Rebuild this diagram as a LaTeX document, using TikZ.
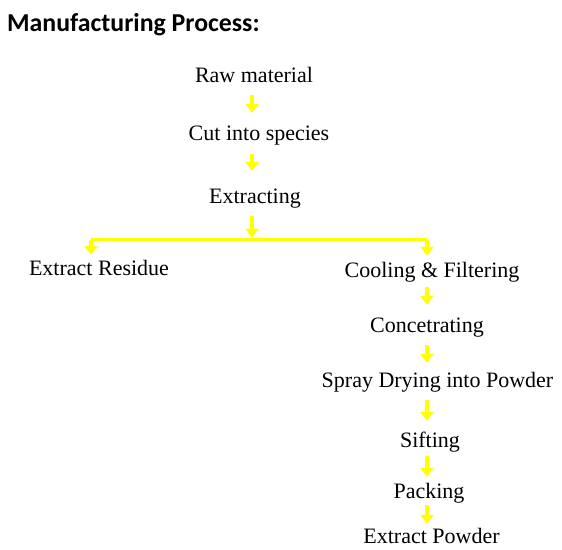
\documentclass[tikz,border=0pt]{standalone}
\usepackage{fontspec}
\setmainfont{Liberation Serif}
\newfontfamily\titlefont{Carlito}
\usetikzlibrary{arrows.meta}
\definecolor{ylw}{RGB}{255,255,0}
\tikzset{
  txt/.style={anchor=base, inner sep=0pt, text height=14.5pt, text depth=0pt,
    font=\fontsize{22}{26}\selectfont},
  arr/.style={draw=ylw, line width=4.5pt, -{Triangle[width=13pt,length=9pt]}},
  hline/.style={draw=ylw, line width=3pt},
}
\begin{document}
\begin{tikzpicture}[x=1pt,y=-1pt]
\useasboundingbox[fill=white] (0,0) rectangle (562,549);
\node[anchor=base west, inner sep=0pt, font=\titlefont\bfseries\fontsize{25.8}{30}\selectfont] (title) at (7,31) {Manufacturing Process:};
\node[txt] (raw) at (254,82) {Raw material};
\node[txt] (cut) at (259,140) {Cut into species};
\node[txt] (extr) at (255,203) {Extracting};
\node[txt] (resid) at (99,275) {Extract Residue};
\node[txt] (cool) at (432,277) {Cooling \& Filtering};
\node[txt] (conc) at (427,332) {Concetrating};
\node[txt] (spray) at (437.5,387) {Spray Drying into Powder};
\node[txt] (sift) at (430,447) {Sifting};
\node[txt] (pack) at (429,498) {Packing};
\node[txt] (expow) at (431.5,543) {Extract Powder};
\coordinate (colM) at (252,0);
\coordinate (colL) at (91,0);
\coordinate (colR) at (427,0);
\coordinate (split) at (252,239.5);
\coordinate (splitL) at (91,239.5);
\coordinate (splitR) at (427,239.5);
\draw[arr, shorten <=13pt, shorten >=12.5pt] (raw.south -| colM) -- (cut.north -| colM);
\draw[arr, shorten <=14pt, shorten >=17.5pt] (cut.south -| colM) -- (extr.north -| colM);
\draw[arr, shorten <=13pt, shorten >=2pt] (extr.south -| colM) -- (split);
\draw[hline] (splitL) -- (splitR);
\draw[arr, shorten >=5.5pt] (splitL) -- (resid.north -| colL);
\draw[arr, shorten >=6.5pt] (splitR) -- (cool.north -| colR);
\draw[arr, shorten <=10pt, shorten >=12.5pt] (cool.south -| colR) -- (conc.north -| colR);
\draw[arr, shorten <=13pt, shorten >=9.5pt] (conc.south -| colR) -- (spray.north -| colR);
\draw[arr, shorten <=13pt, shorten >=11.5pt] (spray.south -| colR) -- (sift.north -| colR);
\draw[arr, shorten <=9pt, shorten >=6.5pt] (sift.south -| colR) -- (pack.north -| colR);
\draw[arr, shorten <=7pt, shorten >=4.5pt] (pack.south -| colR) -- (expow.north -| colR);
\end{tikzpicture}
\end{document}
